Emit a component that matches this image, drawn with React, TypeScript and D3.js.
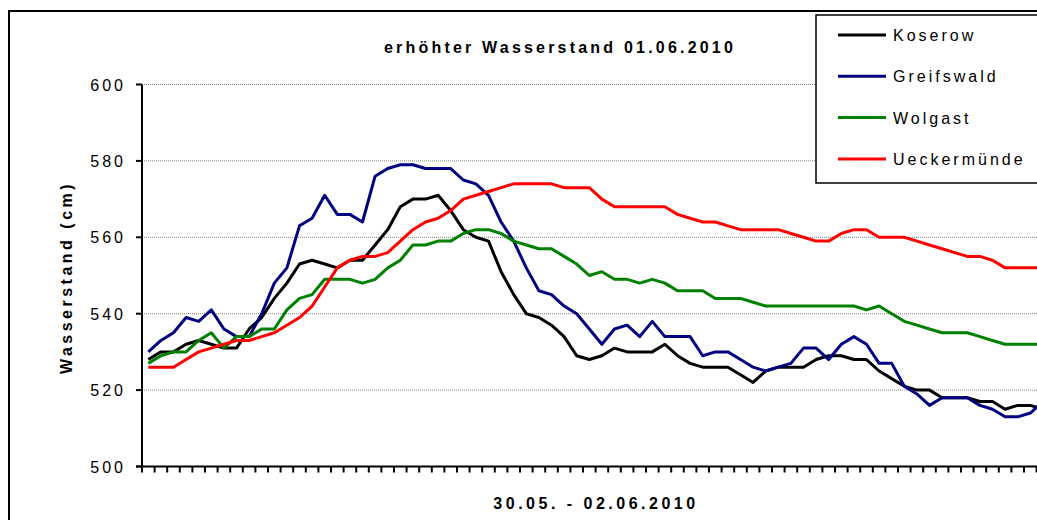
import * as d3 from 'd3';

// Wasserstand in cm, one value per time step (30.05. - 02.06.2010)
const koserow = [
  528, 530, 530, 532, 533, 532, 531, 531, 536, 539, 544, 548, 553, 554, 553, 552, 554, 554, 558, 562,
  568, 570, 570, 571, 567, 562, 560, 559, 551, 545, 540, 539, 537, 534, 529, 528, 529, 531, 530, 530,
  530, 532, 529, 527, 526, 526, 526, 524, 522, 525, 526, 526, 526, 528, 529, 529, 528, 528, 525, 523,
  521, 520, 520, 518, 518, 518, 517, 517, 515, 516, 516, 515
];
const greifswald = [
  530, 533, 535, 539, 538, 541, 536, 534, 534, 540, 548, 552, 563, 565, 571, 566, 566, 564, 576, 578,
  579, 579, 578, 578, 578, 575, 574, 571, 564, 559, 552, 546, 545, 542, 540, 536, 532, 536, 537, 534,
  538, 534, 534, 534, 529, 530, 530, 528, 526, 525, 526, 527, 531, 531, 528, 532, 534, 532, 527, 527,
  521, 519, 516, 518, 518, 518, 516, 515, 513, 513, 514, 517
];
const wolgast = [
  527, 529, 530, 530, 533, 535, 531, 534, 534, 536, 536, 541, 544, 545, 549, 549, 549, 548, 549, 552,
  554, 558, 558, 559, 559, 561, 562, 562, 561, 559, 558, 557, 557, 555, 553, 550, 551, 549, 549, 548,
  549, 548, 546, 546, 546, 544, 544, 544, 543, 542, 542, 542, 542, 542, 542, 542, 542, 541, 542, 540,
  538, 537, 536, 535, 535, 535, 534, 533, 532, 532, 532, 532
];
const ueckermuende = [
  526, 526, 526, 528, 530, 531, 532, 533, 533, 534, 535, 537, 539, 542, 547, 552, 554, 555, 555, 556,
  559, 562, 564, 565, 567, 570, 571, 572, 573, 574, 574, 574, 574, 573, 573, 573, 570, 568, 568, 568,
  568, 568, 566, 565, 564, 564, 563, 562, 562, 562, 562, 561, 560, 559, 559, 561, 562, 562, 560, 560,
  560, 559, 558, 557, 556, 555, 555, 554, 552, 552, 552, 552
];

const seriesNames = ['Koserow', 'Greifswald', 'Wolgast', 'Ueckermünde'];
const seriesColors = ['#000000', '#000080', '#008000', '#ff0000'];
const seriesData = [koserow, greifswald, wolgast, ueckermuende];
const yTicks = [500, 520, 540, 560, 580, 600];

const title = 'erhöhter Wasserstand 01.06.2010';
const yTitle = 'Wasserstand (cm)';
const xTitle = '30.05. - 02.06.2010';

export default function App() {
  const width = 1037;
  const height = 520;
  const step = 12.6;
  const left = 142;
  const steps = koserow.map((_, i) => i);

  const x = d3
    .scaleBand<number>()
    .domain(steps)
    .range([left, left + steps.length * step])
    .padding(0);
  const y = d3.scaleLinear().domain([500, 600]).range([466.5, 84.5]);

  const line = d3
    .line<number>()
    .x((_, i) => (x(i) as number) + x.bandwidth() / 2)
    .y((d) => y(d));

  const font = '"Liberation Sans", Arial, sans-serif';
  const tickEdges = steps.map((i) => x(i) as number).concat([x.range()[1]]);

  return (
    <svg
      width={width}
      height={height}
      style={{ position: 'absolute', left: 0, top: 0, background: '#fff' }}
      fontFamily={font}
    >
      {/* chart border, runs off the right/bottom edge */}
      <rect x={9} y={11} width={1200} height={600} fill='#fff' stroke='#000' strokeWidth={2} />

      <text x={560} y={53} textAnchor='middle' fontSize={16} fontWeight='bold' letterSpacing={3.2}>
        {title}
      </text>

      {/* gridlines */}
      <g className='grid'>
        {yTicks.slice(1).map((t) => (
          <line
            key={t}
            x1={left}
            x2={x.range()[1]}
            y1={y(t)}
            y2={y(t)}
            stroke='#808080'
            strokeWidth={1}
            strokeDasharray='1 1'
          />
        ))}
      </g>

      {/* series */}
      <g className='plot-area'>
        {seriesData.map((s, k) => (
          <path
            key={seriesNames[k]}
            d={line(s) ?? ''}
            fill='none'
            stroke={seriesColors[k]}
            strokeWidth={3}
            strokeLinejoin='round'
          />
        ))}
      </g>

      {/* y axis */}
      <g className='y-axis'>
        <line x1={left} x2={left} y1={y(600)} y2={y(500)} stroke='#000' strokeWidth={2} />
        {yTicks.map((t) => (
          <g key={t}>
            <line x1={left - 6} x2={left} y1={y(t)} y2={y(t)} stroke='#000' strokeWidth={2} />
            <text x={126} y={y(t) + 6} textAnchor='end' fontSize={16} letterSpacing={3}>
              {t}
            </text>
          </g>
        ))}
        <text
          transform={`translate(72,${(y(500) + y(600)) / 2 + 2}) rotate(-90)`}
          textAnchor='middle'
          fontSize={16}
          fontWeight='bold'
          letterSpacing={3.5}
        >
          {yTitle}
        </text>
      </g>

      {/* x axis */}
      <g className='x-axis'>
        <line x1={left - 6} x2={x.range()[1]} y1={y(500)} y2={y(500)} stroke='#000' strokeWidth={2} />
        {tickEdges.map((tx, i) => (
          <line key={i} x1={tx} x2={tx} y1={y(500)} y2={y(500) + 6} stroke='#000' strokeWidth={2} />
        ))}
        <text x={596} y={509} textAnchor='middle' fontSize={16} fontWeight='bold' letterSpacing={3.5}>
          {xTitle}
        </text>
      </g>

      {/* legend */}
      <g className='legend'>
        <rect x={816} y={15} width={300} height={168} fill='#fff' stroke='#000' strokeWidth={1.5} />
        {seriesNames.map((n, k) => (
          <g key={n} transform={`translate(0,${35 + k * 41.3})`}>
            <line x1={838} x2={886} y1={0} y2={0} stroke={seriesColors[k]} strokeWidth={3} />
            <text x={893} y={6} fontSize={16} letterSpacing={3}>
              {n}
            </text>
          </g>
        ))}
      </g>
    </svg>
  );
}
